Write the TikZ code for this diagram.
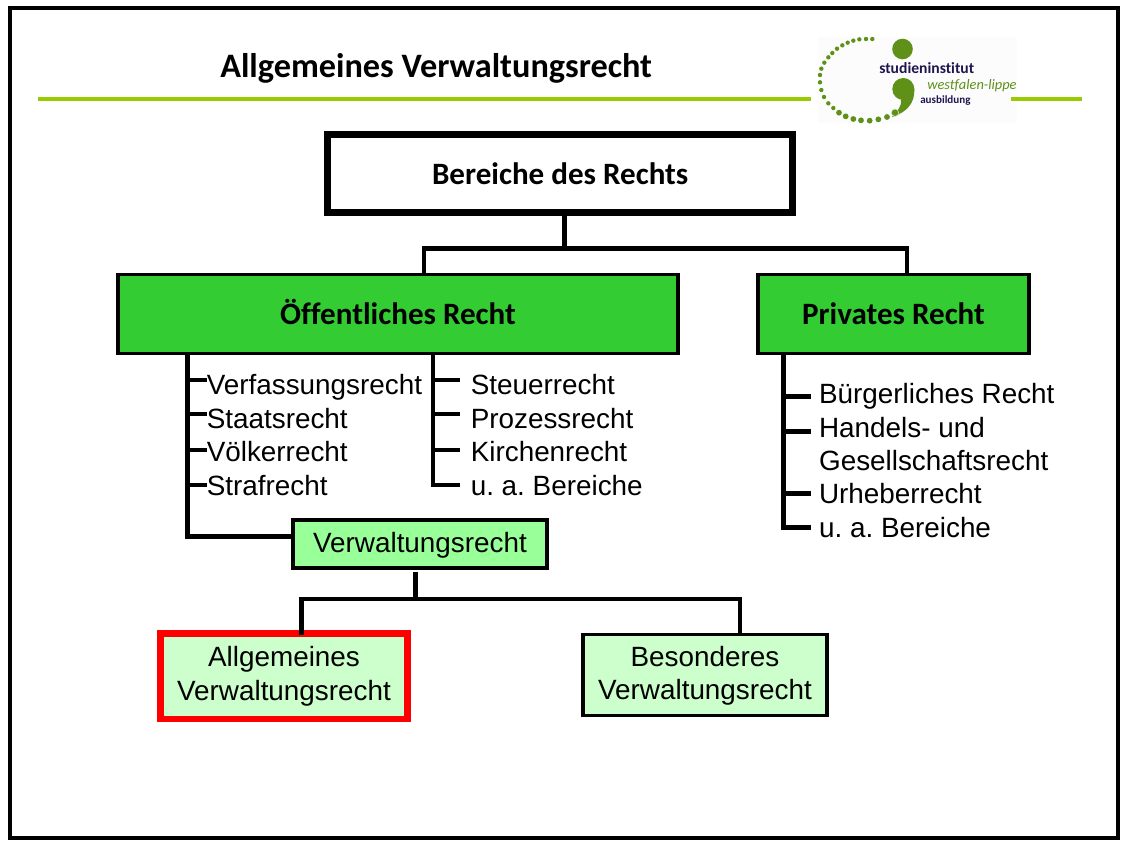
\documentclass[tikz,border=0pt]{standalone}
\usepackage{fontspec}
\setmainfont{Liberation Sans}
\newfontfamily\calib[Ligatures=NoCommon]{Carlito}
\frenchspacing
\definecolor{lime}{HTML}{99CC00}
\definecolor{midgreen}{HTML}{33CC33}
\definecolor{lightgreen}{HTML}{99FF99}
\definecolor{palegreen}{HTML}{CCFFCC}
\definecolor{logogreen}{HTML}{5F9119}
\definecolor{logonavy}{HTML}{1F1650}
\tikzset{
 x=0.75pt,y=-0.75pt,
 box/.style={draw=black,line width=2.7pt,align=center,inner sep=0pt,text=black},
 conn/.style={line width=3.4pt,line cap=butt,line join=miter},
 thinconn/.style={line width=2.7pt,line cap=butt,line join=miter},
 item/.style={anchor=base west,inner sep=0pt,font=\fontsize{20.9}{24}\selectfont},
 big/.style={font=\calib\bfseries\fontsize{23.3}{26}\selectfont,text height=18.8pt,text depth=2.9pt},
 reg/.style={font=\fontsize{20.9}{25}\selectfont},
}
\begin{document}
\begin{tikzpicture}
\useasboundingbox (0,0) rectangle (1127,847);
\fill[white] (0,0) rectangle (1127,847);
\draw[line width=2.6pt] (10,8) rectangle (1118,838);
% logo background and title rule
\fill[white!99!black] (818,37) rectangle (1017,123);
\fill[lime] (38,97) rectangle (811,101);
\fill[lime] (1011,97) rectangle (1082,101);
\node[anchor=base west,inner sep=0pt,font=\calib\bfseries\fontsize{25.7}{28}\selectfont] (title) at (220,77) {Allgemeines Verwaltungsrecht};
% logo
\foreach \a/\b in {217/57,198/57,178/58,160/62,143/68,127/76,111/86,97/99,85/112,73/128,64/146,60/165,60/187,64/210,72/231,85/250,100/264}{
 \fill[logogreen] ({800+\a/3},{20+\b/3}) circle (2.2);}
\foreach \a/\b in {117/278,137/289,160/297,183/301,209/302,235/298,261/291}{
 \fill[logogreen] ({800+\a/3},{20+\b/3}) circle (2.9);}
\fill[logogreen] (902.5,49) circle (10.3);
\fill[logogreen] (903.3,89) circle (11);
\fill[logogreen] (914.3,89) .. controls (915,102) and (908,112) .. (892,117) .. controls (898,110) and (902,106) .. (901,99.5) -- cycle;
\fill[white!70!logogreen] (895,112.7) circle (4);
\fill[logogreen] (895,112.7) circle (3.2);
\node[anchor=base west,inner sep=0pt,text=logonavy,font=\calib\bfseries\fontsize{11.7}{13}\selectfont] (logoa) at (879,73.3) {studieninstitut};
\node[anchor=base west,inner sep=0pt,text=logogreen,font=\calib\itshape\fontsize{10.8}{13}\selectfont] (logob) at (927,89) {westfalen-lippe};
\node[anchor=base west,inner sep=0pt,text=logonavy,font=\calib\bfseries\fontsize{8.3}{10}\selectfont] (logoc) at (920,103) {ausbildung};
% boxes
\node[box,line width=5.2pt,minimum width=348.4pt,minimum height=59pt,big] (root) at (560.2,173.5) {Bereiche des Rechts};
\node[box,fill=midgreen,minimum width=420pt,minimum height=59pt,big] (pub) at (398,314) {Öffentliches Recht};
\node[box,fill=midgreen,minimum width=203pt,minimum height=59pt,big] (priv) at (893.5,314) {Privates Recht};
\node[box,fill=lightgreen,minimum width=190.5pt,minimum height=36pt,reg,text height=16pt,text depth=4pt] (vw) at (420,544) {Verwaltungsrecht};
\node[box,line width=5pt,draw=red,fill=palegreen,minimum width=185pt,minimum height=64.3pt,reg] (avw) at (284,676.2) {Allgemeines\\Verwaltungsrecht};
\node[box,fill=palegreen,minimum width=183pt,minimum height=61pt,reg] (bvw) at (705,675) {\rule{0pt}{16pt}Besonderes\\Verwaltungsrecht};
% list items
\node[item] (a1) at (206.5,394) {Verfassungsrecht};
\node[item] (a2) at (206.5,428) {Staatsrecht};
\node[item] (a3) at (206.5,461) {Völkerrecht};
\node[item] (a4) at (206.5,495) {Strafrecht};
\node[item] (b1) at (470.5,394) {Steuerrecht};
\node[item] (b2) at (470.5,428) {Prozessrecht};
\node[item] (b3) at (470.5,461) {Kirchenrecht};
\node[item] (b4) at (470.5,495) {u. a. Bereiche};
\node[item] (c1) at (818.8,403.3) {Bürgerliches Recht};
\node[item] (c2) at (818.8,437.7) {Handels- und};
\node[item] (c2b) at (818.8,470.5) {Gesellschaftsrecht};
\node[item] (c3) at (818.8,503.3) {Urheberrecht};
\node[item] (c4) at (818.8,537.7) {u. a. Bereiche};
% tick ends
\coordinate (ka1) at (207,379.7);
\coordinate (ka2) at (207,414);
\coordinate (ka3) at (207,449.7);
\coordinate (ka4) at (207,485);
\coordinate (kb1) at (460,379.7);
\coordinate (kb2) at (460,414);
\coordinate (kb3) at (460,449.7);
\coordinate (kb4) at (460,485);
\coordinate (kc1) at (811,396.7);
\coordinate (kc2) at (811,431.7);
\coordinate (kc3) at (811,493.3);
\coordinate (kc4) at (811,527.7);
% trunks
\coordinate (ta) at (187.7,354);
\coordinate (tb) at (433,354);
\coordinate (tc) at (783.5,354);
\coordinate (tv) at (187.7,536.7);
\draw[conn] (ta) -- (tv) -- (tv -| vw.west);
\foreach \n in {ka1,ka3,ka4}{\draw[thinconn] (ta |- \n) -- (\n);}
\draw[conn] (ta |- ka2) -- (ka2);
\draw[thinconn] (tb) -- (tb |- kb4) -- (kb4);
\foreach \n in {kb1,kb3}{\draw[thinconn] (tb |- \n) -- (\n);}
\draw[conn] (tb |- kb2) -- (kb2);
\draw[conn] (tc) -- (tc |- kc4) -- (kc4);
\foreach \n in {kc1,kc2,kc3}{\draw[conn] (tc |- \n) -- (\n);}
% tree
\coordinate (j1) at (564.7,248.3);
\coordinate (jl) at (424,248.3);
\coordinate (jr) at (907,248.3);
\coordinate (j2) at (415.3,598.7);
\coordinate (jal) at (301.3,598.7);
\coordinate (jbr) at (740,598.7);
\draw[conn] (root.south -| j1) -- (j1);
\draw[thinconn] (jl |- pub.north) -- (jl);
\draw[thinconn] (jr |- priv.north) -- (jr);
\draw[conn] ([xshift=-1.3pt]jl) -- ([xshift=1.3pt]jr);
\draw[conn,shorten <=1.5pt] (vw.south -| j2) -- (j2);
\draw[conn,line width=3.1pt] ([xshift=-1.8pt]jal) -- ([xshift=1.5pt]jbr);
\draw[conn,line width=3.7pt,shorten <=-3.75pt] (avw.north -| jal) -- (jal);
\draw[conn,line width=3pt] (bvw.north -| jbr) -- (jbr);
\end{tikzpicture}
\end{document}
